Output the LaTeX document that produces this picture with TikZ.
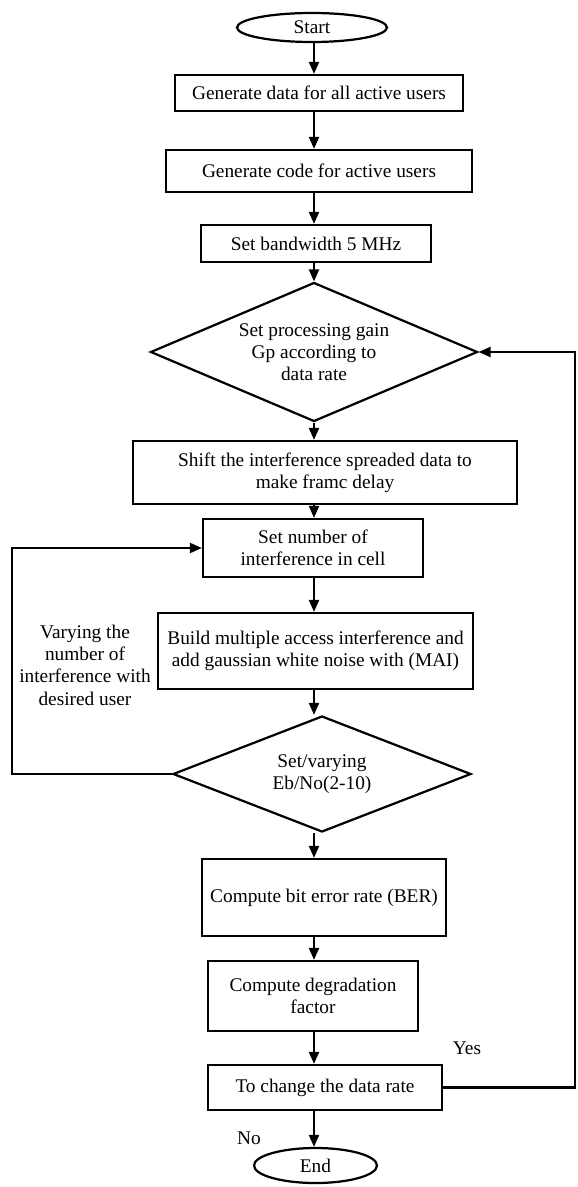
\documentclass[tikz,border=0pt]{standalone}
\usepackage{fontspec}
\setmainfont{Liberation Serif}
\usetikzlibrary{arrows.meta,shapes.geometric}

\begin{document}
\begin{tikzpicture}[
    x=0.03cm, y=-0.03cm,
    every node/.style={font=\fontsize{16.5}{19}\selectfont},
    block/.style={rectangle, draw, line width=1.9pt, align=center, inner sep=2pt},
    decision/.style={diamond, draw, line width=1.9pt, align=center, inner sep=0pt},
    terminal/.style={ellipse, draw, line width=1.9pt, inner sep=0pt},
    arr/.style={-{Triangle[length=0.36cm, width=0.3cm]}, line width=1.9pt}
  ]
    \useasboundingbox (0,0) rectangle (577,1187);

    % ── Main column ──
    \node[terminal, minimum width=4.5cm, minimum height=0.87cm] (start) at (312,27.5) {Start};
    \node[block, minimum width=8.64cm, minimum height=1.08cm] (gendata) at (319,93) {Generate data for all active users};
    \node[block, minimum width=9.18cm, minimum height=1.26cm] (gencode) at (319,171) {Generate code for active users};
    \node[block, minimum width=6.9cm, minimum height=1.11cm] (bw) at (316,243.5) {Set bandwidth 5 MHz};
    \node[decision, aspect=2.35, minimum width=9.81cm, minimum height=4.17cm] (gain) at (314,352) {Set processing gain\\Gp according to\\data rate};
    \node[block, minimum width=11.52cm, minimum height=1.89cm] (shift) at (325,472.5) {Shift the interference spreaded data to\\make framc delay};
    \node[block, minimum width=6.6cm, minimum height=1.74cm] (setnum) at (313,548) {Set number of\\interference in cell};
    \node[block, minimum width=9.45cm, minimum height=2.28cm] (build) at (315.5,651) {Build multiple access interference and\\add gaussian white noise with (MAI)};
    \node[decision, aspect=2.57, minimum width=8.94cm, minimum height=3.48cm] (ebno) at (322,774) {Set/varying\\Eb/No(2-10)};
    \node[block, minimum width=7.32cm, minimum height=2.31cm] (ber) at (324,897.5) {Compute bit error rate (BER)};
    \node[block, minimum width=6.3cm, minimum height=2.1cm] (degr) at (313,996) {Compute degradation\\factor};
    \node[block, minimum width=7.02cm, minimum height=1.35cm] (change) at (325,1087.5) {To change the data rate};
    \node[terminal, minimum width=3.69cm, minimum height=1.05cm] (end) at (315.5,1165.5) {End};

    % ── Labels ──
    \node[align=center] (vary) at (85,665) {Varying the\\number of\\interference with\\desired user};
    \node (yes) at (467,1048) {Yes};
    \node (no) at (249,1138) {No};

    % ── Loop corners ──
    \coordinate (axis) at (314,0);
    \coordinate (loopL) at (12,552);
    \coordinate (loopR) at (575,352);

    % ── Arrows down the column ──
    \draw[arr] (start.south -| axis) -- (gendata.north -| axis);
    \draw[arr] (gendata.south -| axis) -- (gencode.north -| axis);
    \draw[arr] (gencode.south -| axis) -- (bw.north -| axis);
    \draw[arr] (bw.south -| axis) -- (gain.north);
    \draw[arr] (gain.south) -- (shift.north -| axis);
    \draw[arr] (shift.south -| axis) -- (setnum.north -| axis);
    \draw[arr] (setnum.south -| axis) -- (build.north -| axis);
    \draw[arr] (build.south -| axis) -- (ebno.north -| axis);
    \draw[arr] (ebno.south -| axis) -- (ber.north -| axis);
    \draw[arr] (ber.south -| axis) -- (degr.north -| axis);
    \draw[arr] (degr.south -| axis) -- (change.north -| axis);
    \draw[arr] (change.south -| axis) -- (end.north -| axis);

    % ── Feedback loops ──
    \draw[arr] (ebno.west) -- (ebno.west -| loopL) |- (setnum.west);
    \draw[arr] (change.east) -- (change.east -| loopR) |- (gain.east);

  \end{tikzpicture}
\end{document}
